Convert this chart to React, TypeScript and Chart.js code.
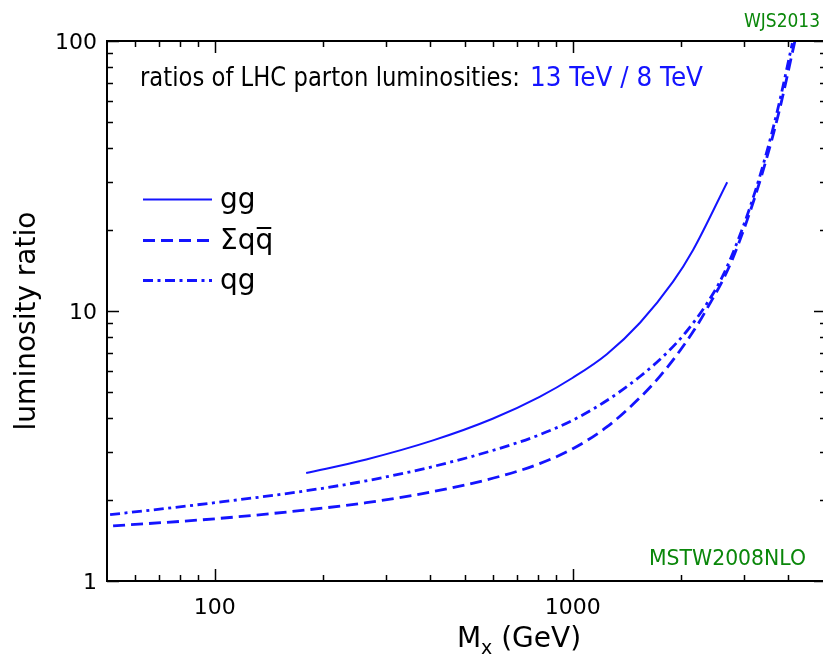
import React, { useEffect, useRef } from "react";
import { Chart, registerables } from "chart.js";

Chart.register(...registerables);

// ---- data ----
const ggMass = [180, 265, 405, 597, 808, 1000, 1245, 1541, 1906, 2168, 2700];
const ggRatio = [2.51, 2.82, 3.31, 3.99, 4.81, 5.66, 6.92, 9.05, 12.84, 16.83, 30.0];

const qqMass = [52, 100, 178, 265, 405, 625, 808, 1000, 1245, 1541, 1753, 1994, 2225, 2420, 2632, 2789, 3073, 3405, 3776, 4170];
const qqRatio = [1.6, 1.7, 1.83, 1.95, 2.14, 2.44, 2.72, 3.09, 3.72, 4.78, 5.74, 7.14, 8.84, 10.7, 13.1, 15.5, 21.8, 33.3, 55.3, 99.5];

const qgMass = [51, 100, 172, 265, 405, 625, 808, 1000, 1245, 1541, 1834, 2086, 2374, 2632, 2994, 3341, 3727, 4106];
const qgRatio = [1.76, 1.95, 2.14, 2.35, 2.65, 3.1, 3.48, 3.94, 4.66, 5.72, 7.01, 8.45, 10.7, 13.6, 20.6, 32.0, 55.0, 98.2];

const seriesLabels = ["gg", "\u03A3q" + "q\u0305", "qg"];

const xMajorTicks = [100, 1000];
const xMinorTicks = [60, 70, 80, 90, 200, 300, 400, 500, 600, 700, 800, 900, 2000, 3000, 4000];
const yMajorTicks = [1, 10, 100];
const yMinorTicks = [2, 3, 4, 5, 6, 7, 8, 9, 20, 30, 40, 50, 60, 70, 80, 90];
const xTickLabels = ["100", "1000"];
const yTickLabels = ["1", "10", "100"];

const titleBlack = "ratios of LHC parton luminosities:";
const titleBlue = "13 TeV / 8 TeV";
const yTitle = "luminosity ratio";
const xTitleMain = "M";
const xTitleSub = "x";
const xTitleRest = " (GeV)";
const creditText = "WJS2013";
const pdfText = "MSTW2008NLO";

const BLUE = "rgb(20,20,255)";
const GREEN = "rgb(10,135,10)";
const FONT = '"DejaVu Sans", sans-serif';

const decorPlugin = {
  id: "decor",
  afterDraw(chart: any) {
    const ctx = chart.ctx as CanvasRenderingContext2D;
    const ca = chart.chartArea;
    const xs = chart.scales.x;
    const ys = chart.scales.y;
    ctx.save();
    // frame (right spine lies just outside the picture)
    ctx.strokeStyle = "#000";
    ctx.lineWidth = 2;
    ctx.beginPath();
    ctx.moveTo(ca.right + 2, ca.top);
    ctx.lineTo(ca.left, ca.top);
    ctx.lineTo(ca.left, ca.bottom);
    ctx.lineTo(ca.right + 2, ca.bottom);
    ctx.stroke();
    // ticks (inward, all four sides)
    ctx.lineWidth = 1.5;
    const drawX = (v: number, len: number) => {
      const p = Math.round(xs.getPixelForValue(v)) + 0.5;
      ctx.beginPath();
      ctx.moveTo(p, ca.bottom);
      ctx.lineTo(p, ca.bottom - len);
      ctx.moveTo(p, ca.top);
      ctx.lineTo(p, ca.top + len);
      ctx.stroke();
    };
    const drawY = (v: number, len: number) => {
      const p = Math.round(ys.getPixelForValue(v)) + 0.5;
      ctx.beginPath();
      ctx.moveTo(ca.left, p);
      ctx.lineTo(ca.left + len, p);
      ctx.moveTo(ca.right + 3, p);
      ctx.lineTo(ca.right + 3 - len, p);
      ctx.stroke();
    };
    xMajorTicks.forEach((v) => drawX(v, 12));
    xMinorTicks.forEach((v) => drawX(v, 6));
    yMajorTicks.forEach((v) => drawY(v, 12));
    yMinorTicks.forEach((v) => drawY(v, 6));

    // tick labels
    ctx.fillStyle = "#000";
    ctx.font = `22px ${FONT}`;
    ctx.textAlign = "center";
    ctx.textBaseline = "alphabetic";
    xMajorTicks.forEach((v, i) => {
      ctx.fillText(xTickLabels[i], xs.getPixelForValue(v), ca.bottom + 33);
    });
    ctx.textAlign = "right";
    yMajorTicks.forEach((v, i) => {
      ctx.fillText(yTickLabels[i], ca.left - 10, ys.getPixelForValue(v) + 8);
    });

    // y title
    ctx.save();
    ctx.translate(35, 321);
    ctx.rotate(-Math.PI / 2);
    ctx.textAlign = "center";
    ctx.font = `28px ${FONT}`;
    ctx.fillText(yTitle, 0, 0);
    ctx.restore();

    // x title with subscript
    ctx.textAlign = "left";
    ctx.font = `28px ${FONT}`;
    const wM = ctx.measureText(xTitleMain).width;
    const wR = ctx.measureText(xTitleRest).width;
    ctx.font = `19px ${FONT}`;
    const wS = ctx.measureText(xTitleSub).width;
    const total = wM + wS + wR;
    const x0 = 519 - total / 2;
    const base = 647;
    ctx.font = `28px ${FONT}`;
    ctx.fillText(xTitleMain, x0, base);
    ctx.font = `19px ${FONT}`;
    ctx.fillText(xTitleSub, x0 + wM, base + 7);
    ctx.font = `28px ${FONT}`;
    ctx.fillText(xTitleRest, x0 + wM + wS, base);

    // title
    ctx.font = `26px ${FONT}`;
    ctx.fillStyle = "#000";
    ctx.fillText(titleBlack, 140, 86, 380);
    ctx.fillStyle = BLUE;
    ctx.fillText(titleBlue, 530, 86, 173);

    // credits
    ctx.fillStyle = GREEN;
    ctx.font = `19px ${FONT}`;
    ctx.textAlign = "right";
    ctx.fillText(creditText, 820, 27, 76);
    ctx.textAlign = "left";
    ctx.font = `22px ${FONT}`;
    ctx.fillText(pdfText, 649, 565, 157);

    // legend
    const legY = [199, 240, 280];
    chart.data.datasets.forEach((ds: any, i: number) => {
      ctx.strokeStyle = ds.borderColor;
      ctx.lineWidth = ds.borderWidth;
      ctx.setLineDash(ds.borderDash || []);
      ctx.beginPath();
      ctx.moveTo(143, legY[i] + 0.5);
      ctx.lineTo(212, legY[i] + 0.5);
      ctx.stroke();
      ctx.setLineDash([]);
      ctx.fillStyle = "#000";
      ctx.font = `28px ${FONT}`;
      ctx.fillText(ds.label, 220, legY[i] + 9);
    });
    ctx.restore();
  },
};

function pts(xs: number[], ys: number[]) {
  return xs.map((x, i) => ({ x, y: ys[i] }));
}

export default function App() {
  const ref = useRef<HTMLCanvasElement | null>(null);
  useEffect(() => {
    if (!ref.current) return;
    const chart = new Chart(ref.current, {
      type: "line",
      data: {
        datasets: [
          {
            label: seriesLabels[0],
            data: pts(ggMass, ggRatio),
            borderColor: BLUE,
            borderWidth: 2,
            pointRadius: 0,
            fill: false,
            cubicInterpolationMode: "monotone",
          },
          {
            label: seriesLabels[1],
            data: pts(qqMass, qqRatio),
            borderColor: BLUE,
            borderWidth: 2.8,
            borderDash: [12, 6],
            pointRadius: 0,
            fill: false,
            cubicInterpolationMode: "monotone",
          },
          {
            label: seriesLabels[2],
            data: pts(qgMass, qgRatio),
            borderColor: BLUE,
            borderWidth: 2.8,
            borderDash: [10, 4.5, 3, 4.5],
            pointRadius: 0,
            fill: false,
            cubicInterpolationMode: "monotone",
          },
        ],
      } as any,
      options: {
        animation: false,
        responsive: false,
        maintainAspectRatio: false,
        layout: { padding: { left: 107, top: 41, right: 0, bottom: 78 } },
        scales: {
          x: { type: "logarithmic", min: 50, max: 5000, display: false },
          y: { type: "logarithmic", min: 1, max: 100, display: false },
        },
        plugins: { legend: { display: false }, tooltip: { enabled: false } },
      } as any,
      plugins: [decorPlugin],
    });
    return () => chart.destroy();
  }, []);
  return (
    <div style={{ position: "absolute", left: 0, top: 0, width: 823, height: 659, background: "#fff" }}>
      <canvas ref={ref} width={823} height={659} style={{ display: "block" }} />
    </div>
  );
}
